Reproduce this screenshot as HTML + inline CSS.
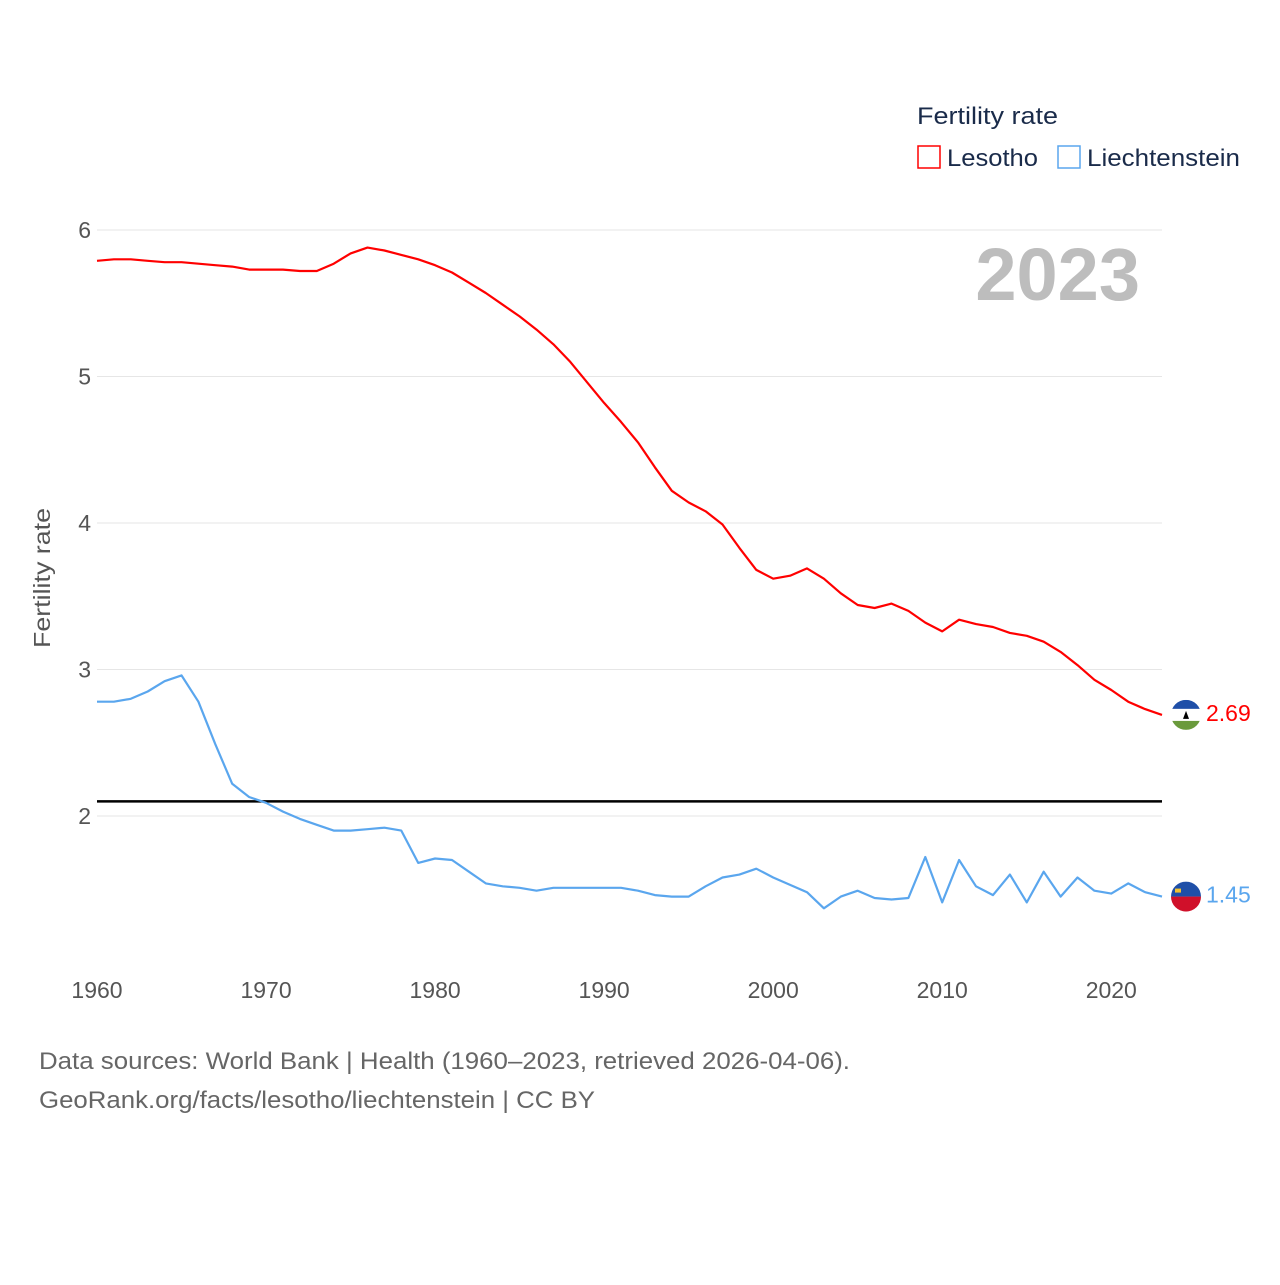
<!DOCTYPE html>
<html><head><meta charset="utf-8">
<style>
html,body{margin:0;padding:0;background:#fff;}
body{width:1280px;height:1280px;overflow:hidden;font-family:"Liberation Sans",sans-serif;}
svg text{font-family:"Liberation Sans",sans-serif;}
</style></head>
<body>
<svg id="chart" width="1280" height="1280" xmlns="http://www.w3.org/2000/svg">
  <g id="grid"></g>
  <g id="yticks"></g>
  <g id="xticks"></g>
  <text x="50" y="578" transform="rotate(-90 50 578)" text-anchor="middle" font-size="23" fill="#555" textLength="140" lengthAdjust="spacingAndGlyphs">Fertility rate</text>
  <text x="1140" y="300" text-anchor="end" font-size="74" font-weight="bold" fill="#bdbdbd">2023</text>
  <g>
    <text x="917" y="124" font-size="24" fill="#1a2b4a" textLength="141" lengthAdjust="spacingAndGlyphs">Fertility rate</text>
    <rect x="918" y="146" width="22" height="22" fill="none" stroke="#ff0000" stroke-width="1.5"/>
    <text x="947" y="166" font-size="24" fill="#1a2b4a" textLength="91" lengthAdjust="spacingAndGlyphs">Lesotho</text>
    <rect x="1058" y="146" width="22" height="22" fill="none" stroke="#5aa6ee" stroke-width="1.5"/>
    <text x="1087" y="166" font-size="24" fill="#1a2b4a" textLength="153" lengthAdjust="spacingAndGlyphs">Liechtenstein</text>
  </g>
  <g id="series"></g>
  <text x="39" y="1069" font-size="24" fill="#666" textLength="811" lengthAdjust="spacingAndGlyphs">Data sources: World Bank | Health (1960–2023, retrieved 2026-04-06).</text>
  <text x="39" y="1108" font-size="24" fill="#666" textLength="556" lengthAdjust="spacingAndGlyphs">GeoRank.org/facts/lesotho/liechtenstein | CC BY</text>
</svg>
<script>
const years = [];
for (let y = 1960; y <= 2023; y++) years.push(y);
const lesotho = [5.79,5.80,5.80,5.79,5.78,5.78,5.77,5.76,5.75,5.73,5.73,5.73,5.72,5.72,5.77,5.84,5.88,5.86,5.83,5.80,5.76,5.71,5.64,5.57,5.49,5.41,5.32,5.22,5.10,4.96,4.82,4.69,4.55,4.38,4.22,4.14,4.08,3.99,3.83,3.68,3.62,3.64,3.69,3.62,3.52,3.44,3.42,3.45,3.40,3.32,3.26,3.34,3.31,3.29,3.25,3.23,3.19,3.12,3.03,2.93,2.86,2.78,2.73,2.69];
const liechtenstein = [2.78,2.78,2.80,2.85,2.92,2.96,2.78,2.49,2.22,2.13,2.09,2.03,1.98,1.94,1.90,1.90,1.91,1.92,1.90,1.68,1.71,1.70,1.62,1.54,1.52,1.51,1.49,1.51,1.51,1.51,1.51,1.51,1.49,1.46,1.45,1.45,1.52,1.58,1.60,1.64,1.58,1.53,1.48,1.37,1.45,1.49,1.44,1.43,1.44,1.72,1.41,1.70,1.52,1.46,1.60,1.41,1.62,1.45,1.58,1.49,1.47,1.54,1.48,1.45];
const yTicks = [2,3,4,5,6];
const xTicks = [1960,1970,1980,1990,2000,2010,2020];
const replacement = 2.1;

const NS = "http://www.w3.org/2000/svg";
const xScale = y => 97 + (y - 1960) * (1162 - 97) / 63;
const yScale = v => 816 - (v - 2) * 146.5;
function mk(tag, attrs, parent){const e=document.createElementNS(NS,tag);for(const k in attrs)e.setAttribute(k,attrs[k]);parent.appendChild(e);return e;}

const grid = document.getElementById('grid'), yt = document.getElementById('yticks'), xt = document.getElementById('xticks'), ser = document.getElementById('series');
yTicks.forEach(t => {
  const l = mk('line',{x1:97,x2:1162,y1:yScale(t),y2:yScale(t),stroke:'#e6e6e6','stroke-width':1},grid);
  
  
  const tx = mk('text',{x:91,y:yScale(t)+8,'text-anchor':'end','font-size':23,fill:'#555'},yt);
  tx.textContent = t;
  
  
});
xTicks.forEach(t => {
  const tx = mk('text',{x:xScale(t),y:998,'text-anchor':'middle','font-size':23,fill:'#555'},xt);
  tx.textContent = t;
  
  
});
const rl = mk('line',{x1:97,x2:1162,y1:yScale(replacement),y2:yScale(replacement),stroke:'#000','stroke-width':2.5},ser);



function drawLine(vals,color,name){
  const d = vals.map((v,i)=>(i?'L':'M')+xScale(years[i]).toFixed(1)+' '+yScale(v).toFixed(1)).join(' ');
  const p = mk('path',{d:d,fill:'none',stroke:color,'stroke-width':2.2,'stroke-linejoin':'round'},ser);
  
  
  const last = vals[vals.length-1];
  const ty = yScale(last);
  const lbl = mk('text',{x:1206,y:ty+6,'font-size':23,fill:color},ser);
  lbl.textContent = last.toFixed(2);
  
  
  return ty;
}
const ly = drawLine(lesotho,'#ff0000','lesotho');
const cy = drawLine(liechtenstein,'#5aa6ee','liechtenstein');

function flag(cyv, name, bands){
  const g = mk('g',{},ser);
  
  
  const id = 'clip-'+name;
  const cp = mk('clipPath',{id:id},g);
  mk('circle',{cx:1186,cy:cyv,r:15},cp);
  const gg = mk('g',{'clip-path':'url(#'+id+')'},g);
  let y0 = cyv-15;
  bands.forEach(b=>{mk('rect',{x:1171,y:y0,width:30,height:b[1],fill:b[0]},gg);y0+=b[1];});
  return gg;
}
const lf = flag(ly,'lesotho',[['#1f4fa8',9],['#ffffff',12],['#6a9a3c',9]]);
mk('path',{d:`M1183 ${ly+4} L1186 ${ly-4} L1189 ${ly+4} Z`,fill:'#000'},lf);
const cf = flag(cy,'liechtenstein',[['#1f4fa8',15],['#d0102a',15]]);
mk('rect',{x:1175,y:cy-8,width:6,height:4,fill:'#f2c230'},cf);
</script>
</body></html>
